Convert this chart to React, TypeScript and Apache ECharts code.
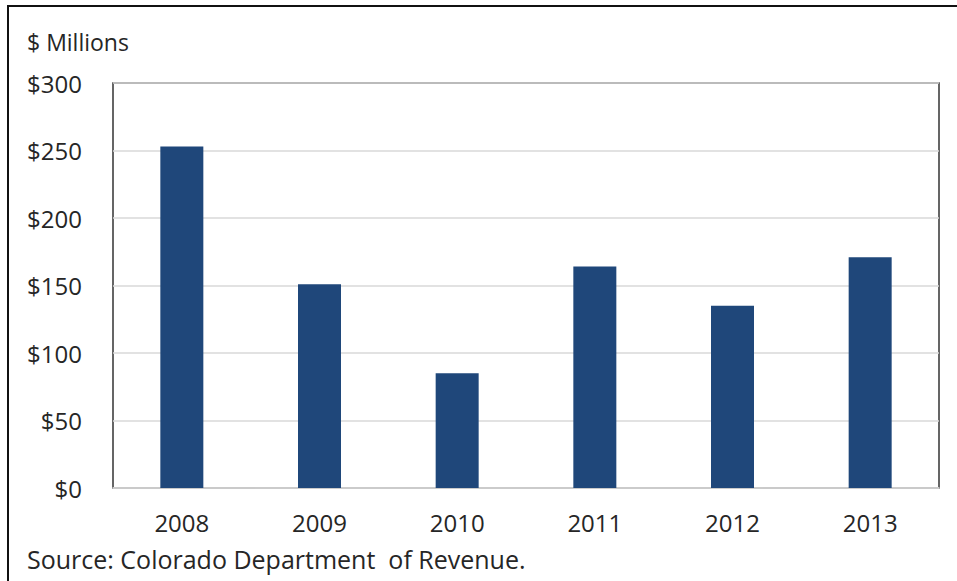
import React, { useEffect, useRef } from "react";
import * as echarts from "echarts";

const years = ["2008", "2009", "2010", "2011", "2012", "2013"];
const revenue = [253, 151, 85, 164, 135, 171];
const yTicks = [0, 50, 100, 150, 200, 250, 300];

const FONT = "'Open Sans', Lato, sans-serif";
const SIZE = 24;

export default function App() {
  const ref = useRef<HTMLDivElement>(null);

  useEffect(() => {
    if (!ref.current) return;
    const chart = echarts.init(ref.current, undefined, { renderer: "svg" });
    chart.setOption({
      animation: false,
      backgroundColor: "#ffffff",
      grid: {
        left: 113,
        top: 83,
        width: 826,
        height: 405,
        show: true,
        borderColor: "#333333",
        borderWidth: 1.5,
        backgroundColor: "transparent",
      },
      graphic: [
        {
          type: "rect",
          shape: { x: 8, y: 6, width: 970, height: 600 },
          style: { fill: "none", stroke: "#111", lineWidth: 2 },
          silent: true,
        },
        {
          type: "text",
          left: 27,
          top: 30,
          style: { text: "$ Millions", font: `23px ${FONT}`, fill: "#262626" },
        },
        {
          type: "text",
          left: 27,
          top: 546,
          style: {
            text: "Source: Colorado Department  of Revenue.",
            font: `25px ${FONT}`,
            fill: "#262626",
          },
        },
      ],
      xAxis: {
        type: "category",
        data: years,
        axisLine: { show: true, lineStyle: { color: "#d0d0d0", width: 1.5 } },
        axisTick: { show: false },
        axisLabel: { color: "#262626", fontSize: SIZE, fontFamily: FONT, margin: 22 },
      },
      yAxis: {
        type: "value",
        min: yTicks[0],
        max: yTicks[yTicks.length - 1],
        interval: 50,
        axisLine: { show: false },
        axisTick: { show: false },
        splitLine: { lineStyle: { color: "#d9d9d9", width: 1.5 } },
        axisLabel: {
          color: "#262626",
          fontSize: SIZE,
          fontFamily: FONT,
          margin: 31,
          formatter: (v: number) => "$" + v,
        },
      },
      series: [
        {
          type: "bar",
          data: revenue,
          barWidth: 43,
          itemStyle: { color: "#1F477A" },
        },
      ],
    });
    return () => chart.dispose();
  }, []);

  return (
    <div
      ref={ref}
      style={{ position: "fixed", left: 0, top: 0, width: 957, height: 581 }}
    />
  );
}
